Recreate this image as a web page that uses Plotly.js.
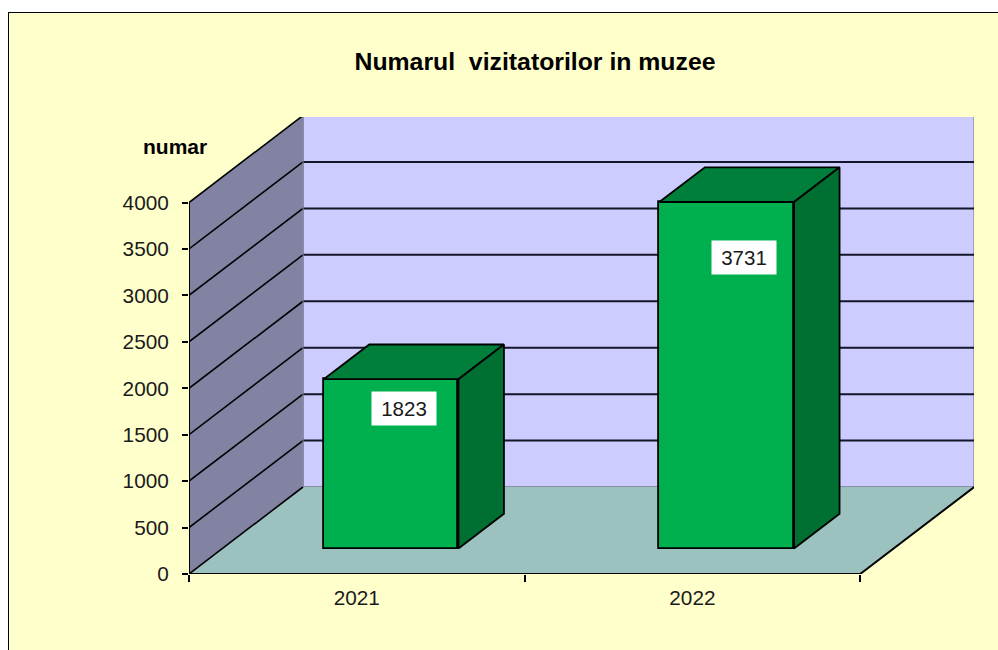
<!DOCTYPE html>
<html>
<head>
<meta charset="utf-8">
<script src="https://cdn.plot.ly/plotly-3.0.1.min.js"></script>
<style>
html,body{margin:0;padding:0;background:#fff;overflow:hidden}
#chart{position:absolute;left:8px;top:12px;width:989px;height:637px;border-left:1.5px solid #000;border-top:1.5px solid #000}
</style>
</head>
<body>
<div id="chart"></div>
<script>
const categories = ['2021', '2022'];
const visitors = [1823, 3731];
const yTicks = [0, 500, 1000, 1500, 2000, 2500, 3000, 3500, 4000];
const chartTitle = 'Numarul\u00A0 vizitatorilor in muzee';
const yLabel = 'numar';

// Projection of the pseudo-3D box, expressed in axis units
const catPx = 335.6, valPx = 371.5 / 4000;
const wallDX = 114 / catPx, wallDY = 87 / valPx;
const barFrontDX = 34.3 / catPx, barFrontDY = 25.5 / valPx;
const barDepthDX = 45.5 / catPx, barDepthDY = 34.7 / valPx;
const barW = 134.7 / catPx;
const labelDX = [0.14, 0.154], labelVal = [1784, 3412];

const x0 = -0.5, x1 = categories.length - 0.5, yMax = 4000;
const W = 989, H = 637;
const m = {l: 180, r: 24, t: 104, b: 76, pad: 0};
const plotW = W - m.l - m.r, plotH = H - m.t - m.b;

const C = {paper:'#FFFFCC', wall:'#CCCCFF', side:'#8282A3', floor:'#9CC2C0',
           front:'#00B04F', top:'#007F3A', right:'#006F32', ink:'#000', text:'#1a1a1a'};
const FONT = '"Liberation Sans", Arial, sans-serif';

function poly(pts, fill, lineColor, lw){
  return {type:'path', xref:'x', yref:'y', layer:'below',
    path:'M' + pts.map(p => p[0] + ',' + p[1]).join('L') + 'Z',
    fillcolor:fill, line:{color:lineColor, width:lw}};
}
function seg(a, b, color, lw){
  return {type:'line', xref:'x', yref:'y', layer:'below',
    x0:a[0], y0:a[1], x1:b[0], y1:b[1], line:{color:color, width:lw}};
}

const shapes = [
  poly([[x0+wallDX,wallDY],[x1+wallDX,wallDY],[x1+wallDX,yMax+wallDY],[x0+wallDX,yMax+wallDY]], C.wall, '#77778f', 1.5),
  poly([[x0,0],[x0+wallDX,wallDY],[x0+wallDX,yMax+wallDY],[x0,yMax]], C.side, 'rgba(0,0,0,0)', 0),
  poly([[x0,0],[x1,0],[x1+wallDX,wallDY],[x0+wallDX,wallDY]], C.floor, 'rgba(0,0,0,0)', 0)
];
yTicks.forEach(v => {
  if (v > 0 && v < yMax) shapes.push(seg([x0+wallDX, v+wallDY],[x1+wallDX, v+wallDY], '#15152a', 2));
});
yTicks.forEach(v => {
  shapes.push(seg([x0, v],[x0+wallDX, v+wallDY], C.ink, 1.6));
});
shapes.push(seg([x0+wallDX, wallDY],[x0+wallDX, yMax+wallDY], '#8a8aa8', 1));

const traces = [];
// Front faces: real bars, lifted off the floor by the projection offset
traces.push({
  type:'bar',
  x: categories.map((c,i) => i + barFrontDX),
  y: visitors,
  base: visitors.map(() => barFrontDY),
  width: barW,
  marker:{color:C.front, line:{color:C.ink, width:1.8}},
  hoverinfo:'skip'
});
// Top and right faces from the same values
visitors.forEach((v,i) => {
  const l = i + barFrontDX - barW/2, r = i + barFrontDX + barW/2;
  const b = barFrontDY, t = barFrontDY + v;
  traces.push({type:'scatter', mode:'lines', fill:'toself', fillcolor:C.top,
    x:[l, r, r+barDepthDX, l+barDepthDX, l],
    y:[t, t, t+barDepthDY, t+barDepthDY, t],
    line:{color:C.ink, width:1.8}, hoverinfo:'skip'});
  traces.push({type:'scatter', mode:'lines', fill:'toself', fillcolor:C.right,
    x:[r, r+barDepthDX, r+barDepthDX, r, r],
    y:[b, b+barDepthDY, t+barDepthDY, t, b],
    line:{color:C.ink, width:1.8}, hoverinfo:'skip'});
});
// Box edges that sit on the plot border
traces.push({type:'scatter', mode:'lines', cliponaxis:false,
  x:[x0, x0, x1, x1+wallDX], y:[yMax, 0, 0, wallDY],
  line:{color:C.ink, width:2}, hoverinfo:'skip'});

const annotations = visitors.map((v,i) => ({
  x: labelDX[i] + i, y: labelVal[i], xref:'x', yref:'y',
  text:String(v), showarrow:false, bgcolor:'#fff', width:62, height:31,
  font:{family:FONT, size:20.5, color:C.text}
}));
annotations.push({
  xref:'paper', yref:'paper', xanchor:'center', yanchor:'middle',
  x:(175 - 9 - m.l)/plotW, y:1 - (146 - 13 - m.t)/plotH,
  text:'<b>' + yLabel + '</b>', showarrow:false,
  font:{family:FONT, size:21, color:'#000'}
});

const layout = {
  width:W, height:H, margin:m, showlegend:false, bargap:0,
  paper_bgcolor:C.paper, plot_bgcolor:'rgba(0,0,0,0)',
  font:{family:FONT, color:C.text},
  title:{text:'<b>' + chartTitle + '</b>', x:(535-9)/W, xanchor:'center',
         y:1-(61-13)/H, yanchor:'middle', font:{size:24.8, color:'#000'}},
  xaxis:{range:[x0, x0 + plotW/catPx], tickmode:'array',
    tickvals:categories.map((c,i) => i), ticktext:categories,
    ticks:'', showgrid:false, zeroline:false, showline:false,
    ticklabelstandoff:9, tickfont:{size:20.8},
    minor:{ticks:'outside', tickmode:'array', tickvals:[x0, 0.5, x1], ticklen:7, tickwidth:1.5, tickcolor:'#000', showgrid:false}},
  yaxis:{range:[0, plotH / valPx], tickmode:'array', tickvals:yTicks,
    ticktext:yTicks.map(String), ticks:'outside', ticklen:6, tickwidth:1.5, tickcolor:'#000',
    ticklabelstandoff:9, showgrid:false, zeroline:false, showline:false, tickfont:{size:20.8}},
  shapes:shapes, annotations:annotations
};
Plotly.newPlot('chart', traces, layout, {displayModeBar:false, responsive:false});
</script>
</body>
</html>
